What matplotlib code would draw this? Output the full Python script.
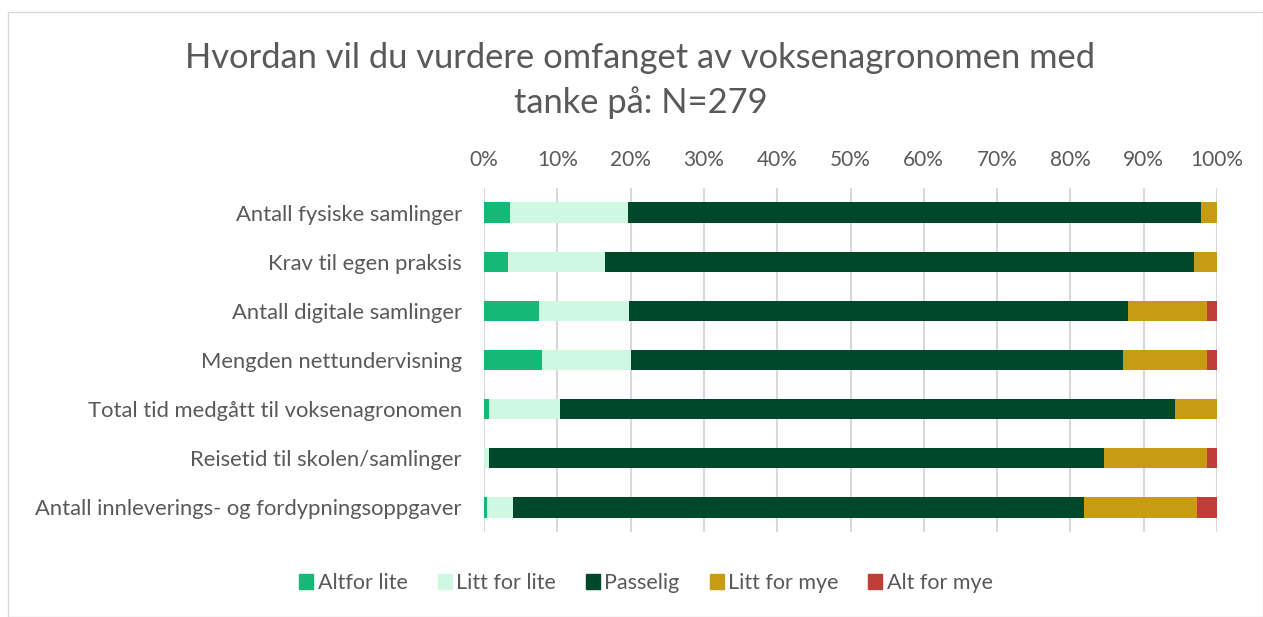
import matplotlib
matplotlib.use("Agg")
import matplotlib.pyplot as plt
from matplotlib.ticker import FuncFormatter
import matplotlib.patches as mpatches

plt.rcParams['font.family'] = ['Lato', 'DejaVu Sans']

categories = [
    "Antall fysiske samlinger",
    "Krav til egen praksis",
    "Antall digitale samlinger",
    "Mengden nettundervisning",
    "Total tid medgått til voksenagronomen",
    "Reisetid til skolen/samlinger",
    "Antall innleverings- og fordypningsoppgaver",
]
series_names = ["Altfor lite", "Litt for lite", "Passelig", "Litt for mye", "Alt for mye"]
altfor_lite   = [3.6, 3.3, 7.5, 7.9, 0.7, 0.0, 0.4]
litt_for_lite = [16.1, 13.2, 12.3, 12.2, 9.7, 0.7, 3.6]
passelig      = [78.1, 80.4, 68.1, 67.1, 83.9, 83.9, 77.8]
litt_for_mye  = [2.2, 3.1, 10.8, 11.5, 5.7, 14.1, 15.5]
alt_for_mye   = [0.0, 0.0, 1.3, 1.3, 0.0, 1.3, 2.7]
colors = ["#16B877", "#CFF8E2", "#00482B", "#C89B15", "#C03E3A"]
xticks = [0, 10, 20, 30, 40, 50, 60, 70, 80, 90, 100]

W, H = 1263, 617
fig = plt.figure(figsize=(W / 100, H / 100), dpi=100)
ax = fig.add_axes([484 / W, 1 - 532 / H, (1217 - 484) / W, (532 - 188) / H])

data = [altfor_lite, litt_for_lite, passelig, litt_for_mye, alt_for_mye]
n = len(categories)
y = list(range(n))
left = [0.0] * n
handles = []
for name, vals, c in zip(series_names, data, colors):
    ax.barh(y, vals, left=left, height=0.41, color=c, zorder=3, label=name)
    left = [l + v for l, v in zip(left, vals)]
    handles.append(mpatches.Patch(color=c, label=name))

ax.set_ylim(n - 0.5, -0.5)
ax.set_xlim(0, 100)
ax.set_xticks(xticks)
ax.xaxis.set_major_formatter(FuncFormatter(lambda v, p: f"{int(v)}%"))
ax.xaxis.tick_top()
ax.tick_params(axis='x', length=0, pad=13, labelsize=15, labelcolor="#595959")
ax.tick_params(axis='y', length=0, pad=16, labelsize=15.8, labelcolor="#595959")
ax.set_yticks(y)
ax.set_yticklabels(categories)
ax.grid(axis='x', color="#D9D9D9", linewidth=1.5, zorder=0)
for s in ax.spines.values():
    s.set_visible(False)

fig.text(0.507, 1 - 58 / H, "Hvordan vil du vurdere omfanget av voksenagronomen med",
         ha='center', va='center', fontsize=24.8, color="#595959")
fig.text(0.507, 1 - 103 / H, "tanke på: N=279",
         ha='center', va='center', fontsize=24.8, color="#595959")

fig.legend(handles=handles, loc='center', bbox_to_anchor=(646 / W, 1 - 583 / H),
           ncol=5, frameon=False, fontsize=15.5, labelcolor="#595959",
           handlelength=0.65, handleheight=0.65, handletextpad=0.2, columnspacing=1.4)

# light chart border
border = mpatches.Rectangle((8 / W, 0), 1 - 8 / W, 1 - 12 / H, transform=fig.transFigure,
                            fill=False, edgecolor="#D9D9D9", linewidth=1)
fig.patches.append(border)

fig.savefig("out.png", dpi=100)
